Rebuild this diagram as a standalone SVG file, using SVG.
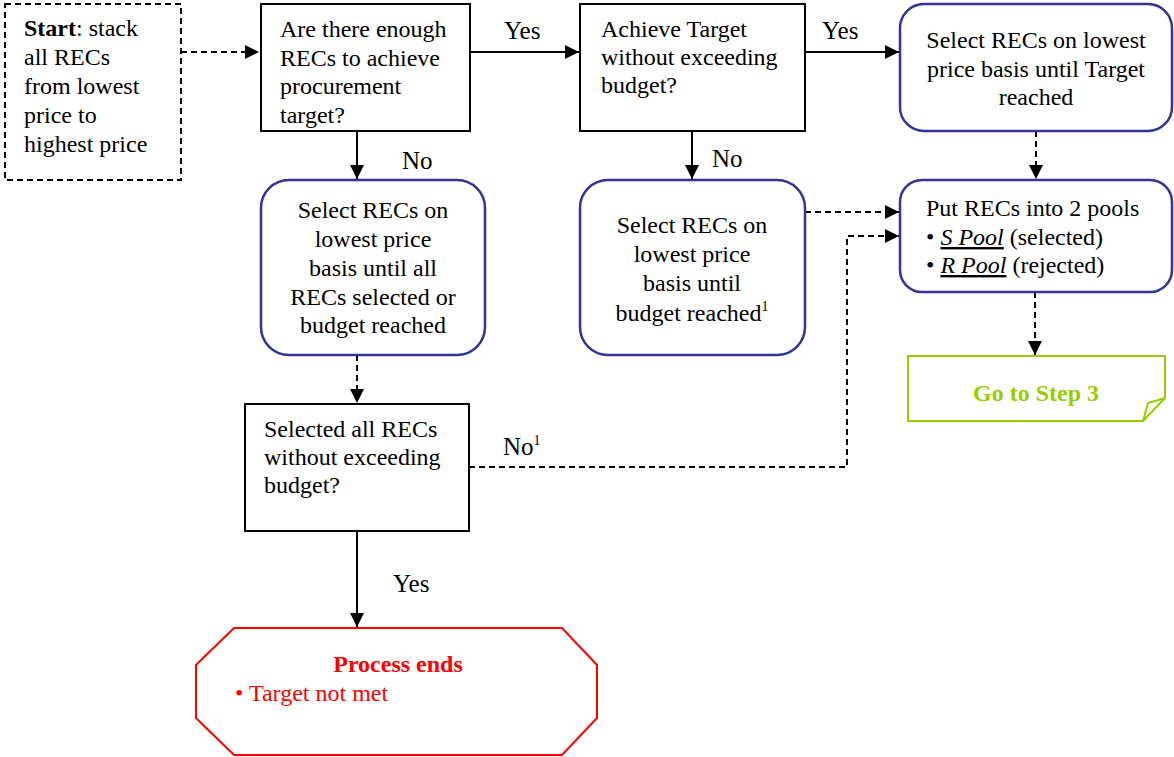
<svg xmlns="http://www.w3.org/2000/svg" width="1174" height="757" viewBox="0 0 1174 757">
<style>
text{font-family:"Liberation Serif","Times New Roman",serif;font-size:24px;fill:#000}
.c{text-anchor:middle}
.b{font-weight:bold}
.lb{font-size:25px}
.sq{fill:#fff;stroke:#000;stroke-width:2}
.rb{fill:#fff;stroke:#333399;stroke-width:2.5}
.ln{fill:none;stroke:#000;stroke-width:2}
.dl{fill:none;stroke:#000;stroke-width:2;stroke-dasharray:6,4}
.sup{font-size:14px}
</style>
<defs>
<marker id="ah" viewBox="0 0 10 10" refX="10" refY="5" markerWidth="7" markerHeight="7" markerUnits="strokeWidth" orient="auto">
<path d="M0,0 L10,5 L0,10 z" fill="#000"/>
</marker>
</defs>
<rect width="1174" height="757" fill="#fff"/>
<g id="connectors">
<path class="dl" d="M181,52 H259" marker-end="url(#ah)"/>
<path class="ln" d="M470,52 H579" marker-end="url(#ah)"/>
<path class="ln" d="M805,52 H899" marker-end="url(#ah)"/>
<path class="ln" d="M357,131 V179" marker-end="url(#ah)"/>
<path class="ln" d="M692,131 V179" marker-end="url(#ah)"/>
<path class="dl" d="M1036,131 V179" marker-end="url(#ah)"/>
<path class="dl" d="M805,212 H899" marker-end="url(#ah)"/>
<path class="dl" d="M469,467 H847 V236 H899" marker-end="url(#ah)"/>
<path class="dl" d="M357,355 V403" marker-end="url(#ah)"/>
<path class="ln" d="M357,531 V627" marker-end="url(#ah)"/>
<path class="dl" d="M1035,292 V355" marker-end="url(#ah)"/>
<text class="lb" x="504" y="39">Yes</text>
<text class="lb" x="822" y="39">Yes</text>
<text class="lb" x="402" y="169">No</text>
<text class="lb" x="712" y="167">No</text>
<text class="lb" x="503" y="455">No<tspan class="sup" dy="-10">1</tspan></text>
<text class="lb" x="393" y="592">Yes</text>
</g>
<g id="start">
<rect x="5" y="4" width="176" height="176" fill="#fff" stroke="#000" stroke-width="2" stroke-dasharray="6,4"/>
<text x="24" y="36"><tspan class="b">Start</tspan>: stack</text>
<text x="24" y="65">all RECs</text>
<text x="24" y="94">from lowest</text>
<text x="24" y="123">price to</text>
<text x="24" y="152">highest price</text>
</g>
<g id="q-enough">
<rect class="sq" x="261" y="4" width="209" height="127"/>
<text x="280" y="37">Are there enough</text>
<text x="280" y="66">RECs to achieve</text>
<text x="280" y="94">procurement</text>
<text x="280" y="123">target?</text>
</g>
<g id="q-achieve">
<rect class="sq" x="580" y="4" width="225" height="127"/>
<text x="601" y="37">Achieve Target</text>
<text x="601" y="65">without exceeding</text>
<text x="601" y="93">budget?</text>
</g>
<g id="select-target">
<rect class="rb" x="900" y="4" width="272" height="127" rx="24"/>
<text class="c" x="1036" y="48">Select RECs on lowest</text>
<text class="c" x="1036" y="77">price basis until Target</text>
<text class="c" x="1036" y="105">reached</text>
</g>
<g id="pools">
<rect class="rb" x="900" y="180" width="272" height="112" rx="22"/>
<text x="926" y="216">Put RECs into 2 pools</text>
<text x="926" y="245">• <tspan font-style="italic" text-decoration="underline">S Pool</tspan> (selected)</text>
<text x="926" y="273">• <tspan font-style="italic" text-decoration="underline">R Pool</tspan> (rejected)</text>
</g>
<g id="step3">
<path d="M908,356 H1165 V398 L1143,421 H908 Z" fill="#fff" stroke="#99cc00" stroke-width="2"/>
<path d="M1143,421 L1148,403 L1165,398" fill="none" stroke="#99cc00" stroke-width="2"/>
<text class="c b" x="1036" y="401" style="fill:#99cc00">Go to Step 3</text>
</g>
<g id="select-budget">
<rect class="rb" x="580" y="180" width="225" height="175" rx="28"/>
<text class="c" x="692" y="233">Select RECs on</text>
<text class="c" x="692" y="262">lowest price</text>
<text class="c" x="692" y="291">basis until</text>
<text class="c" x="692" y="321">budget reached<tspan class="sup" dy="-10">1</tspan></text>
</g>
<g id="select-all">
<rect class="rb" x="261" y="180" width="224" height="175" rx="28"/>
<text class="c" x="373" y="218">Select RECs on</text>
<text class="c" x="373" y="247">lowest price</text>
<text class="c" x="373" y="276">basis until all</text>
<text class="c" x="373" y="305">RECs selected or</text>
<text class="c" x="373" y="333">budget reached</text>
</g>
<g id="q-selected">
<rect class="sq" x="245" y="404" width="224" height="127"/>
<text x="264" y="437">Selected all RECs</text>
<text x="264" y="465">without exceeding</text>
<text x="264" y="493">budget?</text>
</g>
<g id="end">
<path d="M234,628 H562 L597,665 V718 L562,755 H234 L196,718 V665 Z" fill="#fff" stroke="#ff0000" stroke-width="2"/>
<text class="c b" x="398" y="672" style="fill:#ff0000">Process ends</text>
<text x="235" y="701" style="fill:#ff0000">• Target not met</text>
</g>
</svg>
